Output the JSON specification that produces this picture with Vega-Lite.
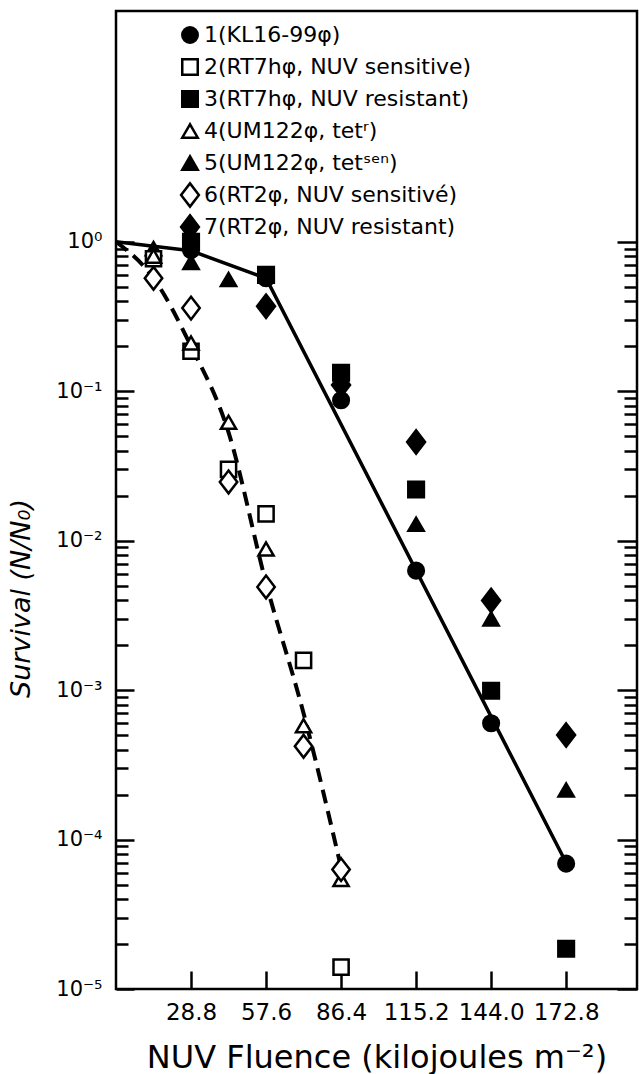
{
  "$schema": "https://vega.github.io/schema/vega-lite/v6.json",
  "width": 521,
  "height": 978,
  "autosize": {"type": "none"},
  "padding": {"left": 116, "top": 11, "right": 2, "bottom": 85},
  "background": "white",
  "config": {
    "font": "DejaVu Sans",
    "view": {"stroke": "black", "strokeWidth": 2.5},
    "axis": {
      "domain": false,
      "grid": false,
      "ticks": true,
      "tickColor": "black",
      "tickWidth": 2.5,
      "labelColor": "black",
      "titleColor": "black",
      "labelFont": "DejaVu Sans",
      "titleFont": "DejaVu Sans",
      "titleFontWeight": "normal"
    },
    "legend": {
      "labelFont": "DejaVu Sans",
      "labelColor": "black",
      "title": null,
      "orient": "none",
      "legendX": 63,
      "legendY": 13,
      "padding": 0,
      "labelFontSize": 22,
      "labelLimit": 500,
      "labelOffset": 3,
      "symbolSize": 240,
      "symbolStrokeWidth": 2.5,
      "rowPadding": -2,
      "gridAlign": "all"
    }
  },
  "datasets": {
    "fit": [
      {"fluence": 0, "survival": 1.0},
      {"fluence": 28.8, "survival": 0.87},
      {"fluence": 57.6, "survival": 0.57},
      {"fluence": 172.8, "survival": 0.00007}
    ],
    "dash": [
      {"fluence": 0, "survival": 1.0},
      {"fluence": 14.4, "survival": 0.57},
      {"fluence": 28.8, "survival": 0.2},
      {"fluence": 43.2, "survival": 0.053},
      {"fluence": 57.6, "survival": 0.0052},
      {"fluence": 72.0, "survival": 0.0007},
      {"fluence": 86.4, "survival": 0.000065}
    ],
    "filled": [
      {"series": "1(KL16-99φ)", "fluence": 28.8, "survival": 0.88},
      {"series": "1(KL16-99φ)", "fluence": 57.6, "survival": 0.57},
      {"series": "1(KL16-99φ)", "fluence": 86.4, "survival": 0.087},
      {"series": "1(KL16-99φ)", "fluence": 115.2, "survival": 0.0063},
      {"series": "1(KL16-99φ)", "fluence": 144.0, "survival": 0.0006},
      {"series": "1(KL16-99φ)", "fluence": 172.8, "survival": 0.000069},
      {"series": "3(RT7hφ, NUV resistant)", "fluence": 28.8, "survival": 1.0},
      {"series": "3(RT7hφ, NUV resistant)", "fluence": 57.6, "survival": 0.6},
      {"series": "3(RT7hφ, NUV resistant)", "fluence": 86.4, "survival": 0.133},
      {"series": "3(RT7hφ, NUV resistant)", "fluence": 115.2, "survival": 0.022},
      {"series": "3(RT7hφ, NUV resistant)", "fluence": 144.0, "survival": 0.00099},
      {"series": "3(RT7hφ, NUV resistant)", "fluence": 172.8, "survival": 0.0000186},
      {"series": "5(UM122φ, tetˢᵉⁿ)", "fluence": 14.4, "survival": 0.9},
      {"series": "5(UM122φ, tetˢᵉⁿ)", "fluence": 28.8, "survival": 0.73},
      {"series": "5(UM122φ, tetˢᵉⁿ)", "fluence": 43.2, "survival": 0.56},
      {"series": "5(UM122φ, tetˢᵉⁿ)", "fluence": 115.2, "survival": 0.0129},
      {"series": "5(UM122φ, tetˢᵉⁿ)", "fluence": 144.0, "survival": 0.003},
      {"series": "5(UM122φ, tetˢᵉⁿ)", "fluence": 172.8, "survival": 0.000215},
      {"series": "7(RT2φ, NUV resistant)", "fluence": 57.6, "survival": 0.37},
      {"series": "7(RT2φ, NUV resistant)", "fluence": 86.4, "survival": 0.11},
      {"series": "7(RT2φ, NUV resistant)", "fluence": 115.2, "survival": 0.0458},
      {"series": "7(RT2φ, NUV resistant)", "fluence": 144.0, "survival": 0.00398},
      {"series": "7(RT2φ, NUV resistant)", "fluence": 172.8, "survival": 0.0005}
    ],
    "open": [
      {"series": "2(RT7hφ, NUV sensitive)", "fluence": 14.4, "survival": 0.77},
      {"series": "2(RT7hφ, NUV sensitive)", "fluence": 28.8, "survival": 0.185},
      {"series": "2(RT7hφ, NUV sensitive)", "fluence": 43.2, "survival": 0.03},
      {"series": "2(RT7hφ, NUV sensitive)", "fluence": 57.6, "survival": 0.0151},
      {"series": "2(RT7hφ, NUV sensitive)", "fluence": 72.0, "survival": 0.00158},
      {"series": "2(RT7hφ, NUV sensitive)", "fluence": 86.4, "survival": 0.000014},
      {"series": "4(UM122φ, tetʳ)", "fluence": 14.4, "survival": 0.8},
      {"series": "4(UM122φ, tetʳ)", "fluence": 28.8, "survival": 0.21},
      {"series": "4(UM122φ, tetʳ)", "fluence": 43.2, "survival": 0.062},
      {"series": "4(UM122φ, tetʳ)", "fluence": 57.6, "survival": 0.0088},
      {"series": "4(UM122φ, tetʳ)", "fluence": 72.0, "survival": 0.000577},
      {"series": "4(UM122φ, tetʳ)", "fluence": 86.4, "survival": 0.000054},
      {"series": "6(RT2φ, NUV sensitivé)", "fluence": 14.4, "survival": 0.57},
      {"series": "6(RT2φ, NUV sensitivé)", "fluence": 28.8, "survival": 0.36},
      {"series": "6(RT2φ, NUV sensitivé)", "fluence": 43.2, "survival": 0.0247},
      {"series": "6(RT2φ, NUV sensitivé)", "fluence": 57.6, "survival": 0.0049},
      {"series": "6(RT2φ, NUV sensitivé)", "fluence": 72.0, "survival": 0.000421},
      {"series": "6(RT2φ, NUV sensitivé)", "fluence": 86.4, "survival": 0.000063}
    ]
  },
  "layer": [
    {
      "data": {"name": "fit"},
      "mark": {"type": "line", "color": "black", "strokeWidth": 3.5},
      "encoding": {
        "x": {
          "field": "fluence", "type": "quantitative",
          "scale": {"domain": [0, 200], "nice": false, "zero": false},
          "axis": {
            "orient": "bottom",
            "values": [28.8, 57.6, 86.4, 115.2, 144.0, 172.8],
            "format": ".1f",
            "ticks": false,
            "labelPadding": 12,
            "labelFontSize": 23,
            "title": "NUV Fluence (kilojoules m⁻²)",
            "titleFontSize": 32,
            "titlePadding": 18
          }
        },
        "y": {
          "field": "survival", "type": "quantitative",
          "scale": {"type": "log", "domain": [0.00001, 35], "nice": false},
          "axis": {
            "orient": "left",
            "values": [1, 0.1, 0.01, 0.001, 0.0001, 0.00001],
            "tickSize": -18,
            "labelPadding": 32,
            "labelFontSize": 21,
            "labelExpr": "datum.value >= 0.5 ? '10⁰' : datum.value >= 0.05 ? '10⁻¹' : datum.value >= 0.005 ? '10⁻²' : datum.value >= 0.0005 ? '10⁻³' : datum.value >= 0.00005 ? '10⁻⁴' : '10⁻⁵'",
            "title": "Survival (N/N₀)",
            "titleFontStyle": "italic",
            "titleFontSize": 27,
            "titlePadding": 20,
            "titleY": 587
          }
        }
      }
    },
    {
      "data": {"name": "dash"},
      "mark": {"type": "line", "color": "black", "strokeWidth": 4, "strokeDash": [14, 8], "interpolate": "monotone"},
      "encoding": {
        "x": {
          "field": "fluence", "type": "quantitative",
          "scale": {"domain": [0, 200], "nice": false, "zero": false},
          "axis": {
            "orient": "top",
            "offset": -978,
            "values": [28.8, 57.6, 86.4, 115.2, 144.0, 172.8],
            "ticks": true,
            "tickSize": 18,
            "tickColor": "black",
            "tickWidth": 2.5,
            "labels": false,
            "title": null
          }
        },
        "y": {
          "field": "survival", "type": "quantitative",
          "scale": {"type": "log", "domain": [0.00001, 35], "nice": false},
          "axis": {
            "orient": "left",
            "values": [0.9, 0.8, 0.7, 0.6, 0.5, 0.4, 0.3, 0.2,
                       0.09, 0.08, 0.07, 0.06, 0.05, 0.04, 0.03, 0.02,
                       0.009, 0.008, 0.007, 0.006, 0.005, 0.004, 0.003, 0.002,
                       0.0009, 0.0008, 0.0007, 0.0006, 0.0005, 0.0004, 0.0003, 0.0002,
                       0.00009, 0.00008, 0.00007, 0.00006, 0.00005, 0.00004, 0.00003, 0.00002],
            "tickSize": -12,
            "labels": false,
            "title": null
          }
        }
      }
    },
    {
      "data": {"name": "filled"},
      "mark": {"type": "point", "strokeWidth": 2, "opacity": 1, "size": 260},
      "encoding": {
        "x": {"field": "fluence", "type": "quantitative", "scale": {"domain": [0, 200], "nice": false, "zero": false}, "axis": null},
        "y": {
          "field": "survival", "type": "quantitative",
          "scale": {"type": "log", "domain": [0.00001, 35], "nice": false},
          "axis": {
            "orient": "right",
            "values": [1, 0.1, 0.01, 0.001, 0.0001, 0.00001],
            "tickSize": -20,
            "labels": false,
            "title": null
          }
        },
        "shape": {
          "field": "series", "type": "nominal",
          "scale": {
            "domain": ["1(KL16-99φ)", "2(RT7hφ, NUV sensitive)", "3(RT7hφ, NUV resistant)", "4(UM122φ, tetʳ)", "5(UM122φ, tetˢᵉⁿ)", "6(RT2φ, NUV sensitivé)", "7(RT2φ, NUV resistant)"],
            "range": ["circle", "square", "square", "triangle-up", "triangle-up", "M0,-1.5L1.15,0L0,1.5L-1.15,0Z", "M0,-1.5L1.15,0L0,1.5L-1.15,0Z"]
          }
        },
        "fill": {
          "field": "series", "type": "nominal",
          "scale": {
            "domain": ["1(KL16-99φ)", "2(RT7hφ, NUV sensitive)", "3(RT7hφ, NUV resistant)", "4(UM122φ, tetʳ)", "5(UM122φ, tetˢᵉⁿ)", "6(RT2φ, NUV sensitivé)", "7(RT2φ, NUV resistant)"],
            "range": ["black", "white", "black", "white", "black", "white", "black"]
          }
        },
        "stroke": {
          "field": "series", "type": "nominal",
          "scale": {
            "domain": ["1(KL16-99φ)", "2(RT7hφ, NUV sensitive)", "3(RT7hφ, NUV resistant)", "4(UM122φ, tetʳ)", "5(UM122φ, tetˢᵉⁿ)", "6(RT2φ, NUV sensitivé)", "7(RT2φ, NUV resistant)"],
            "range": ["black", "black", "black", "black", "black", "black", "black"]
          }
        }
      }
    },
    {
      "data": {"name": "open"},
      "mark": {"type": "point", "strokeWidth": 2.5, "opacity": 1, "size": 230},
      "encoding": {
        "x": {"field": "fluence", "type": "quantitative", "scale": {"domain": [0, 200], "nice": false, "zero": false}, "axis": null},
        "y": {
          "field": "survival", "type": "quantitative",
          "scale": {"type": "log", "domain": [0.00001, 35], "nice": false},
          "axis": {
            "orient": "right",
            "values": [0.9, 0.8, 0.7, 0.6, 0.5, 0.4, 0.3, 0.2,
                       0.09, 0.08, 0.07, 0.06, 0.05, 0.04, 0.03, 0.02,
                       0.009, 0.008, 0.007, 0.006, 0.005, 0.004, 0.003, 0.002,
                       0.0009, 0.0008, 0.0007, 0.0006, 0.0005, 0.0004, 0.0003, 0.0002,
                       0.00009, 0.00008, 0.00007, 0.00006, 0.00005, 0.00004, 0.00003, 0.00002],
            "tickSize": -13,
            "labels": false,
            "title": null
          }
        },
        "shape": {"field": "series", "type": "nominal"},
        "fill": {"field": "series", "type": "nominal"},
        "stroke": {"field": "series", "type": "nominal"}
      }
    }
  ],
  "resolve": {"axis": {"x": "independent", "y": "independent"}}
}
